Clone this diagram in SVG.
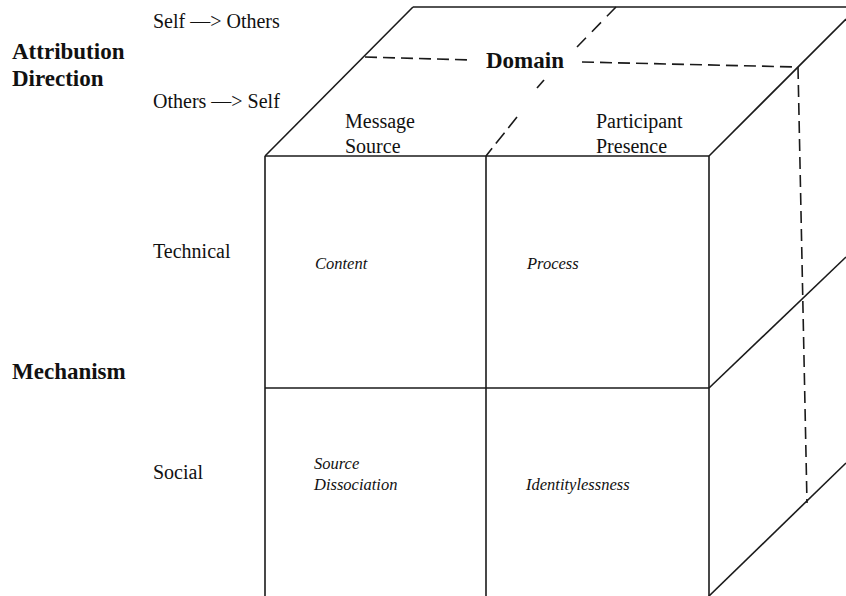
<svg xmlns="http://www.w3.org/2000/svg" width="846" height="596" viewBox="0 0 846 596">
<style>
.ln{stroke:#1a1a1a;stroke-width:1.6;fill:none}
.ds{stroke:#1a1a1a;stroke-width:1.6;fill:none;stroke-dasharray:12 6}
.t{font-family:"Liberation Serif","Times New Roman",serif;font-size:20px;fill:#111}
.b{font-family:"Liberation Serif","Times New Roman",serif;font-size:23px;font-weight:bold;fill:#111}
.i{font-family:"Liberation Serif","Times New Roman",serif;font-size:16.5px;font-style:italic;fill:#111}
</style>
<rect width="846" height="596" fill="#fff"/>
<g id="cube">
<line class="ln" x1="265" y1="156" x2="265" y2="596"/>
<line class="ln" x1="486" y1="156" x2="486" y2="596"/>
<line class="ln" x1="709" y1="156" x2="709" y2="596"/>
<line class="ln" x1="265" y1="156" x2="709" y2="156"/>
<line class="ln" x1="265" y1="388" x2="709" y2="388"/>
<line class="ln" x1="265" y1="156" x2="413" y2="7"/>
<line class="ln" x1="413" y1="7" x2="846" y2="7"/>
<line class="ln" x1="709" y1="156" x2="846" y2="19"/>
<line class="ln" x1="709" y1="388" x2="846" y2="257"/>
<line class="ln" x1="709" y1="596" x2="846" y2="463"/>
</g>
<g id="connectors">
<line class="ds" x1="365" y1="57" x2="473" y2="60"/>
<line class="ds" x1="582" y1="62" x2="798" y2="67"/>
<line class="ds" x1="798" y1="67" x2="807" y2="503"/>
<line class="ds" x1="616" y1="7" x2="577" y2="47" style="stroke-dasharray:13 8.5"/>
<line class="ln" x1="544" y1="80" x2="537" y2="88"/>
<line class="ds" x1="517" y1="117" x2="486" y2="156" style="stroke-dasharray:14 6"/>
</g>
<g id="axis-labels">
<text class="b" x="12" y="59">Attribution</text>
<text class="b" x="12" y="86">Direction</text>
<text class="b" x="12" y="379">Mechanism</text>
<text class="t" x="153" y="28">Self —&gt; Others</text>
<text class="t" x="153" y="108">Others —&gt; Self</text>
<text class="t" x="153" y="258">Technical</text>
<text class="t" x="153" y="479">Social</text>
</g>
<g id="domain">
<text class="b" x="486" y="68">Domain</text>
<text class="t" x="345" y="128">Message</text>
<text class="t" x="345" y="153">Source</text>
<text class="t" x="596" y="128">Participant</text>
<text class="t" x="596" y="153">Presence</text>
</g>
<g id="cells">
<text class="i" x="315" y="269">Content</text>
<text class="i" x="527" y="269">Process</text>
<text class="i" x="314" y="469">Source</text>
<text class="i" x="314" y="490">Dissociation</text>
<text class="i" x="526" y="490">Identitylessness</text>
</g>
</svg>
